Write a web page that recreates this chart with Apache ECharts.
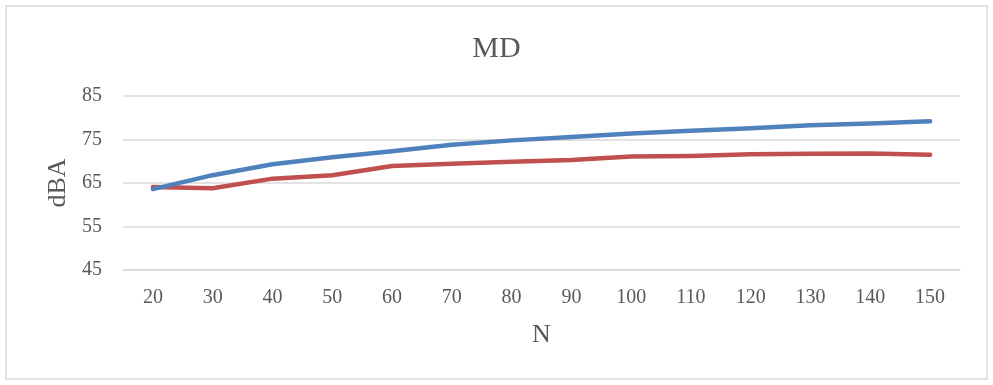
<!DOCTYPE html>
<html>
<head>
<meta charset="utf-8">
<script src="https://cdn.jsdelivr.net/npm/echarts@6/dist/echarts.min.js"></script>
<style>
html,body{margin:0;padding:0;background:#fff;}
#c{width:993px;height:385px;}
</style>
</head>
<body>
<div id="c"></div>
<script>
var categories = ['20','30','40','50','60','70','80','90','100','110','120','130','140','150'];
var blueSeries = [63.6, 66.8, 69.3, 70.9, 72.3, 73.8, 74.8, 75.6, 76.4, 77.0, 77.6, 78.3, 78.7, 79.2];
var redSeries  = [64.1, 63.8, 66.0, 66.8, 68.9, 69.4, 69.9, 70.3, 71.1, 71.2, 71.6, 71.7, 71.8, 71.5];
var yTicks = [45, 55, 65, 75, 85];

var chart = echarts.init(document.getElementById('c'), null, {renderer: 'canvas'});
var font = 'Liberation Serif, Times New Roman, serif';
chart.setOption({
  animation: false,
  backgroundColor: '#ffffff',
  graphic: [{
    type: 'rect',
    shape: {x: 6, y: 6, width: 981, height: 373},
    style: {fill: 'none', stroke: '#D9D9D9', lineWidth: 1.5},
    silent: true
  }],
  title: {
    text: 'MD',
    left: 'center',
    top: 29,
    textStyle: {fontFamily: font, fontSize: 30, fontWeight: 'normal', color: '#595959'}
  },
  grid: {left: 123, right: 33, top: 96, bottom: 115},
  xAxis: {
    type: 'category',
    data: categories,
    boundaryGap: true,
    name: 'N',
    nameLocation: 'middle',
    nameGap: 52,
    nameTextStyle: {fontFamily: font, fontSize: 26, color: '#595959'},
    axisLine: {show: true, lineStyle: {color: '#D9D9D9', width: 1.5}},
    axisTick: {show: false},
    axisLabel: {fontFamily: font, fontSize: 20, color: '#595959', margin: 18}
  },
  yAxis: {
    type: 'value',
    min: yTicks[0],
    max: yTicks[yTicks.length - 1],
    interval: 10,
    name: 'dBA',
    nameLocation: 'middle',
    nameGap: 50,
    nameRotate: 90,
    nameTextStyle: {fontFamily: font, fontSize: 26, color: '#595959'},
    axisLine: {show: false},
    axisTick: {show: false},
    axisLabel: {fontFamily: font, fontSize: 20, color: '#595959', margin: 21},
    splitLine: {lineStyle: {color: '#D9D9D9', width: 1.5}}
  },
  series: [
    {
      type: 'line',
      data: blueSeries,
      symbol: 'none',
      smooth: false,
      lineStyle: {color: '#4F81BD', width: 4.5, cap: 'round', join: 'round'},
      z: 3
    },
    {
      type: 'line',
      data: redSeries,
      symbol: 'none',
      smooth: false,
      lineStyle: {color: '#C0504D', width: 4.5, cap: 'round', join: 'round'},
      z: 2
    }
  ]
});
</script>
</body>
</html>
